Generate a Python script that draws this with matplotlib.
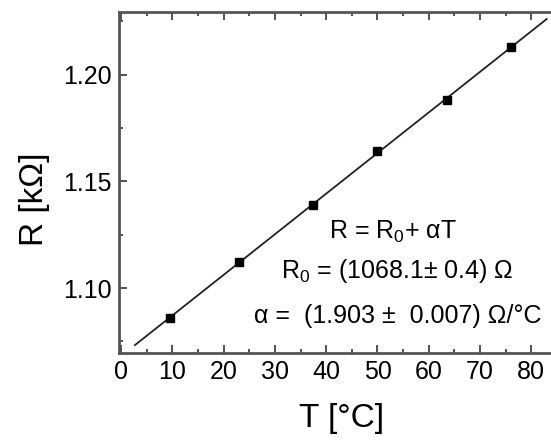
import numpy as np
import matplotlib
matplotlib.use('Agg')
import matplotlib.pyplot as plt
from matplotlib.ticker import MultipleLocator

plt.rcParams['font.family'] = ['Liberation Sans', 'DejaVu Sans']
plt.rcParams['mathtext.fontset'] = 'custom'
plt.rcParams['mathtext.rm'] = 'Liberation Sans'
plt.rcParams['mathtext.it'] = 'Liberation Sans'

# measured points
temp = [9.5, 23.0, 37.5, 50.0, 63.5, 76.0]
res = [1.086, 1.112, 1.139, 1.164, 1.188, 1.213]

# linear fit R = R0 + alpha*T  (kOhm)
r0 = 1.0681
alpha = 0.001903
fit_t = [2.7, 83.0]

x_ticks = [0, 10, 20, 30, 40, 50, 60, 70, 80]
y_ticks = [1.10, 1.15, 1.20]

fig = plt.figure(figsize=(5.51, 4.40), dpi=100)
ax = fig.add_axes([0.216, 0.198, 0.806, 0.775])

ft = np.array(fit_t)
ax.plot(ft, r0 + alpha * ft, color='#222222', lw=1.3)
ax.plot(temp, res, 's', color='black', ms=6)

ax.set_xlim(-0.4, 86.2)
ax.set_ylim(1.0696, 1.2294)
ax.set_xticks(x_ticks)
ax.set_yticks(y_ticks)
ax.set_yticklabels(['%.2f' % v for v in y_ticks])
ax.xaxis.set_minor_locator(MultipleLocator(5))
ax.yaxis.set_minor_locator(MultipleLocator(0.025))

for s in ['left', 'bottom', 'top']:
    ax.spines[s].set_color('#555555')
    ax.spines[s].set_linewidth(2)
ax.spines['right'].set_visible(False)

ax.tick_params(which='both', direction='in', top=True, right=False,
               color='#333333', labelsize=18, pad=5)
ax.tick_params(which='major', length=6, width=1.2)
ax.tick_params(which='minor', length=3, width=1.2)

ax.set_xlabel('T [°C]', fontsize=24, labelpad=14)
ax.set_ylabel('R [kΩ]', fontsize=24)
ax.yaxis.set_label_coords(-0.155, 0.45)

ax.text(53, 1.1262, r'R = R$_0$+ αT', fontsize=18, ha='center', va='center')
ax.text(53.8, 1.108, r'R$_0$ = (1068.1± 0.4) Ω', fontsize=18, ha='center', va='center')
ax.text(54, 1.0869, 'α =  (1.903 ±  0.007) Ω/°C', fontsize=18, ha='center', va='center')

fig.savefig('out.png', dpi=100)
